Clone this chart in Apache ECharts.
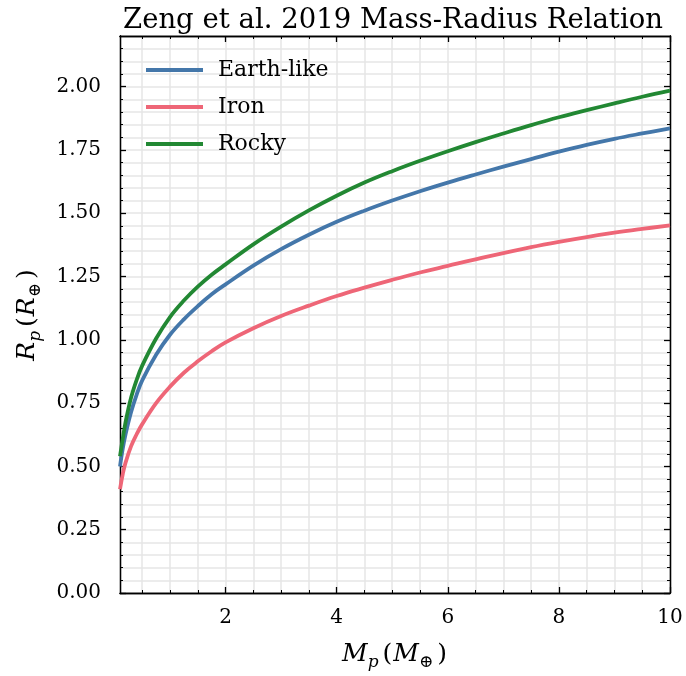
<!DOCTYPE html>
<html>
<head>
<meta charset="utf-8">
<script src="https://cdn.jsdelivr.net/npm/echarts@6/dist/echarts.min.js"></script>
<style>html,body{margin:0;padding:0;background:#fff}#c{width:686px;height:676px}</style>
</head>
<body>
<div id="c"></div>
<script>
// ---- data ----
var mass      = [0.1, 0.15, 0.2, 0.3, 0.4, 0.5, 0.75, 1.0, 1.25, 1.5, 1.75, 2.0, 2.5, 3.0, 3.5, 4.0, 4.5, 5.0, 5.5, 6.0, 6.5, 7.0, 7.5, 8.0, 8.5, 9.0, 9.5, 10];
var earthLike = [0.50, 0.571, 0.627, 0.715, 0.784, 0.84, 0.941, 1.02, 1.081, 1.133, 1.18, 1.219, 1.293, 1.358, 1.415, 1.466, 1.51, 1.55, 1.587, 1.621, 1.653, 1.684, 1.714, 1.743, 1.77, 1.794, 1.815, 1.835];
var iron      = [0.41, 0.47, 0.515, 0.58, 0.627, 0.667, 0.75, 0.815, 0.87, 0.915, 0.955, 0.99, 1.046, 1.094, 1.135, 1.173, 1.206, 1.237, 1.266, 1.292, 1.318, 1.342, 1.366, 1.387, 1.406, 1.423, 1.438, 1.452];
var rocky     = [0.54, 0.61, 0.675, 0.772, 0.842, 0.898, 1.005, 1.09, 1.155, 1.21, 1.257, 1.298, 1.377, 1.447, 1.511, 1.569, 1.621, 1.666, 1.707, 1.745, 1.781, 1.815, 1.848, 1.879, 1.907, 1.934, 1.96, 1.984];
var seriesNames = ['Earth-like', 'Iron', 'Rocky'];
var xMajorTicks = [2, 4, 6, 8, 10];
var xMinorTicks = [0.5, 1, 1.5, 2, 2.5, 3, 3.5, 4, 4.5, 5, 5.5, 6, 6.5, 7, 7.5, 8, 8.5, 9, 9.5, 10];
var yMajorTicks = [0, 0.25, 0.5, 0.75, 1.0, 1.25, 1.5, 1.75, 2.0];
var yMinorTicks = [0, 0.05, 0.1, 0.15, 0.2, 0.25, 0.3, 0.35, 0.4, 0.45, 0.5, 0.55, 0.6, 0.65, 0.7, 0.75, 0.8, 0.85, 0.9, 0.95, 1.0, 1.05, 1.1, 1.15, 1.2, 1.25, 1.3, 1.35, 1.4, 1.45, 1.5, 1.55, 1.6, 1.65, 1.7, 1.75, 1.8, 1.85, 1.9, 1.95, 2.0, 2.05, 2.1, 2.15, 2.2];
var xMin = 0.1, xMax = 10, yMin = 0, yMax = 2.2;

// ---- styling ----
var FONT = '"DejaVu Serif", "Liberation Serif", serif';
var colors = ['#4477AA', '#EE6677', '#228833'];
var gridColor = '#e6e6e6';

function pairs(xs, ys) { return xs.map(function (x, i) { return [x, ys[i]]; }); }

function xAxisDef(pos, major, showLabel, showSplit) {
  return {
    type: 'value', position: pos, min: xMin, max: xMax,
    axisLine: { show: true, onZero: false, lineStyle: { color: '#000', width: 1.3 } },
    axisTick: { show: true, inside: true, customValues: major ? xMajorTicks : xMinorTicks,
                length: major ? 6 : 3, lineStyle: { color: '#000', width: major ? 1.3 : 1 } },
    axisLabel: { show: showLabel, customValues: xMajorTicks, margin: 15,
                 color: '#000', fontFamily: FONT, fontSize: 20 },
    splitLine: { show: showSplit, lineStyle: { color: gridColor, width: 1.5 } },
    minorTick: { show: false }
  };
}
function yAxisDef(pos, major, showLabel, showSplit) {
  return {
    type: 'value', position: pos, min: yMin, max: yMax,
    axisLine: { show: true, onZero: false, lineStyle: { color: '#000', width: 1.3 } },
    axisTick: { show: true, inside: true, customValues: major ? yMajorTicks : yMinorTicks,
                length: major ? 6 : 3, lineStyle: { color: '#000', width: major ? 1.3 : 1 } },
    axisLabel: { show: showLabel, customValues: yMajorTicks, margin: 19,
                 color: '#000', fontFamily: FONT, fontSize: 20,
                 formatter: function (v) { return v.toFixed(2); } },
    splitLine: { show: showSplit, lineStyle: { color: gridColor, width: 1.5 } },
    minorTick: { show: false }
  };
}

var nameStyle = {
  color: '#000', fontFamily: FONT,
  rich: {
    i: { fontSize: 25, fontStyle: 'italic', fontFamily: FONT, lineHeight: 34, verticalAlign: 'middle' },
    n: { fontSize: 25, fontFamily: FONT, lineHeight: 34, verticalAlign: 'middle', padding: [0, 1, 0, 1] },
    s: { fontSize: 17, fontStyle: 'italic', fontFamily: FONT, lineHeight: 12, verticalAlign: 'bottom', padding: [0, 3, 0, 0] }
  }
};
var xa0 = xAxisDef('bottom', true, true, false);
xa0.name = '{i|M}{s|p}{n|(}{i|M}{s|\u2295}{n|)}';
xa0.nameLocation = 'middle';
xa0.nameGap = 44;
xa0.nameTextStyle = nameStyle;
var ya0 = yAxisDef('left', true, true, false);
ya0.name = '{i|R}{s|p}{n|(}{i|R}{s|\u2295}{n|)}';
ya0.nameLocation = 'middle';
ya0.nameGap = 76;
ya0.nameRotate = 90;
ya0.nameTextStyle = nameStyle;

var option = {
  backgroundColor: '#fff',
  animation: false,
  title: {
    text: 'Zeng et al. 2019 Mass-Radius Relation',
    left: 388, top: 2, textAlign: 'center',
    textStyle: { fontFamily: FONT, fontWeight: 'normal', fontSize: 27.5, color: '#000' }
  },
  grid: { left: 120, right: 16, top: 36, bottom: 82, containLabel: false },
  legend: {
    orient: 'vertical', left: 141, top: 52,
    data: seriesNames.map(function (n) { return { name: n, icon: 'rect' }; }),
    itemWidth: 57, itemHeight: 4, itemGap: 11,
    textStyle: { fontFamily: FONT, fontSize: 22, color: '#000', lineHeight: 26, padding: [0, 0, 0, 10] }
  },
  xAxis: [
    xa0,
    xAxisDef('bottom', false, false, true),
    xAxisDef('top', true, false, false),
    xAxisDef('top', false, false, false)
  ],
  yAxis: [
    ya0,
    yAxisDef('left', false, false, true),
    yAxisDef('right', true, false, false),
    yAxisDef('right', false, false, false)
  ],
  series: [
    { name: seriesNames[0], type: 'line', data: pairs(mass, earthLike) },
    { name: seriesNames[1], type: 'line', data: pairs(mass, iron) },
    { name: seriesNames[2], type: 'line', data: pairs(mass, rocky) }
  ].map(function (s, i) {
    s.xAxisIndex = 0; s.yAxisIndex = 0;
    s.symbol = 'none'; s.smooth = 0.4;
    s.color = colors[i];
    s.lineStyle = { color: colors[i], width: 3.8 };
    s.itemStyle = { color: colors[i] };
    return s;
  })
};
var chart = echarts.init(document.getElementById('c'), null, { renderer: 'canvas' });
chart.setOption(option);
</script>
</body>
</html>
